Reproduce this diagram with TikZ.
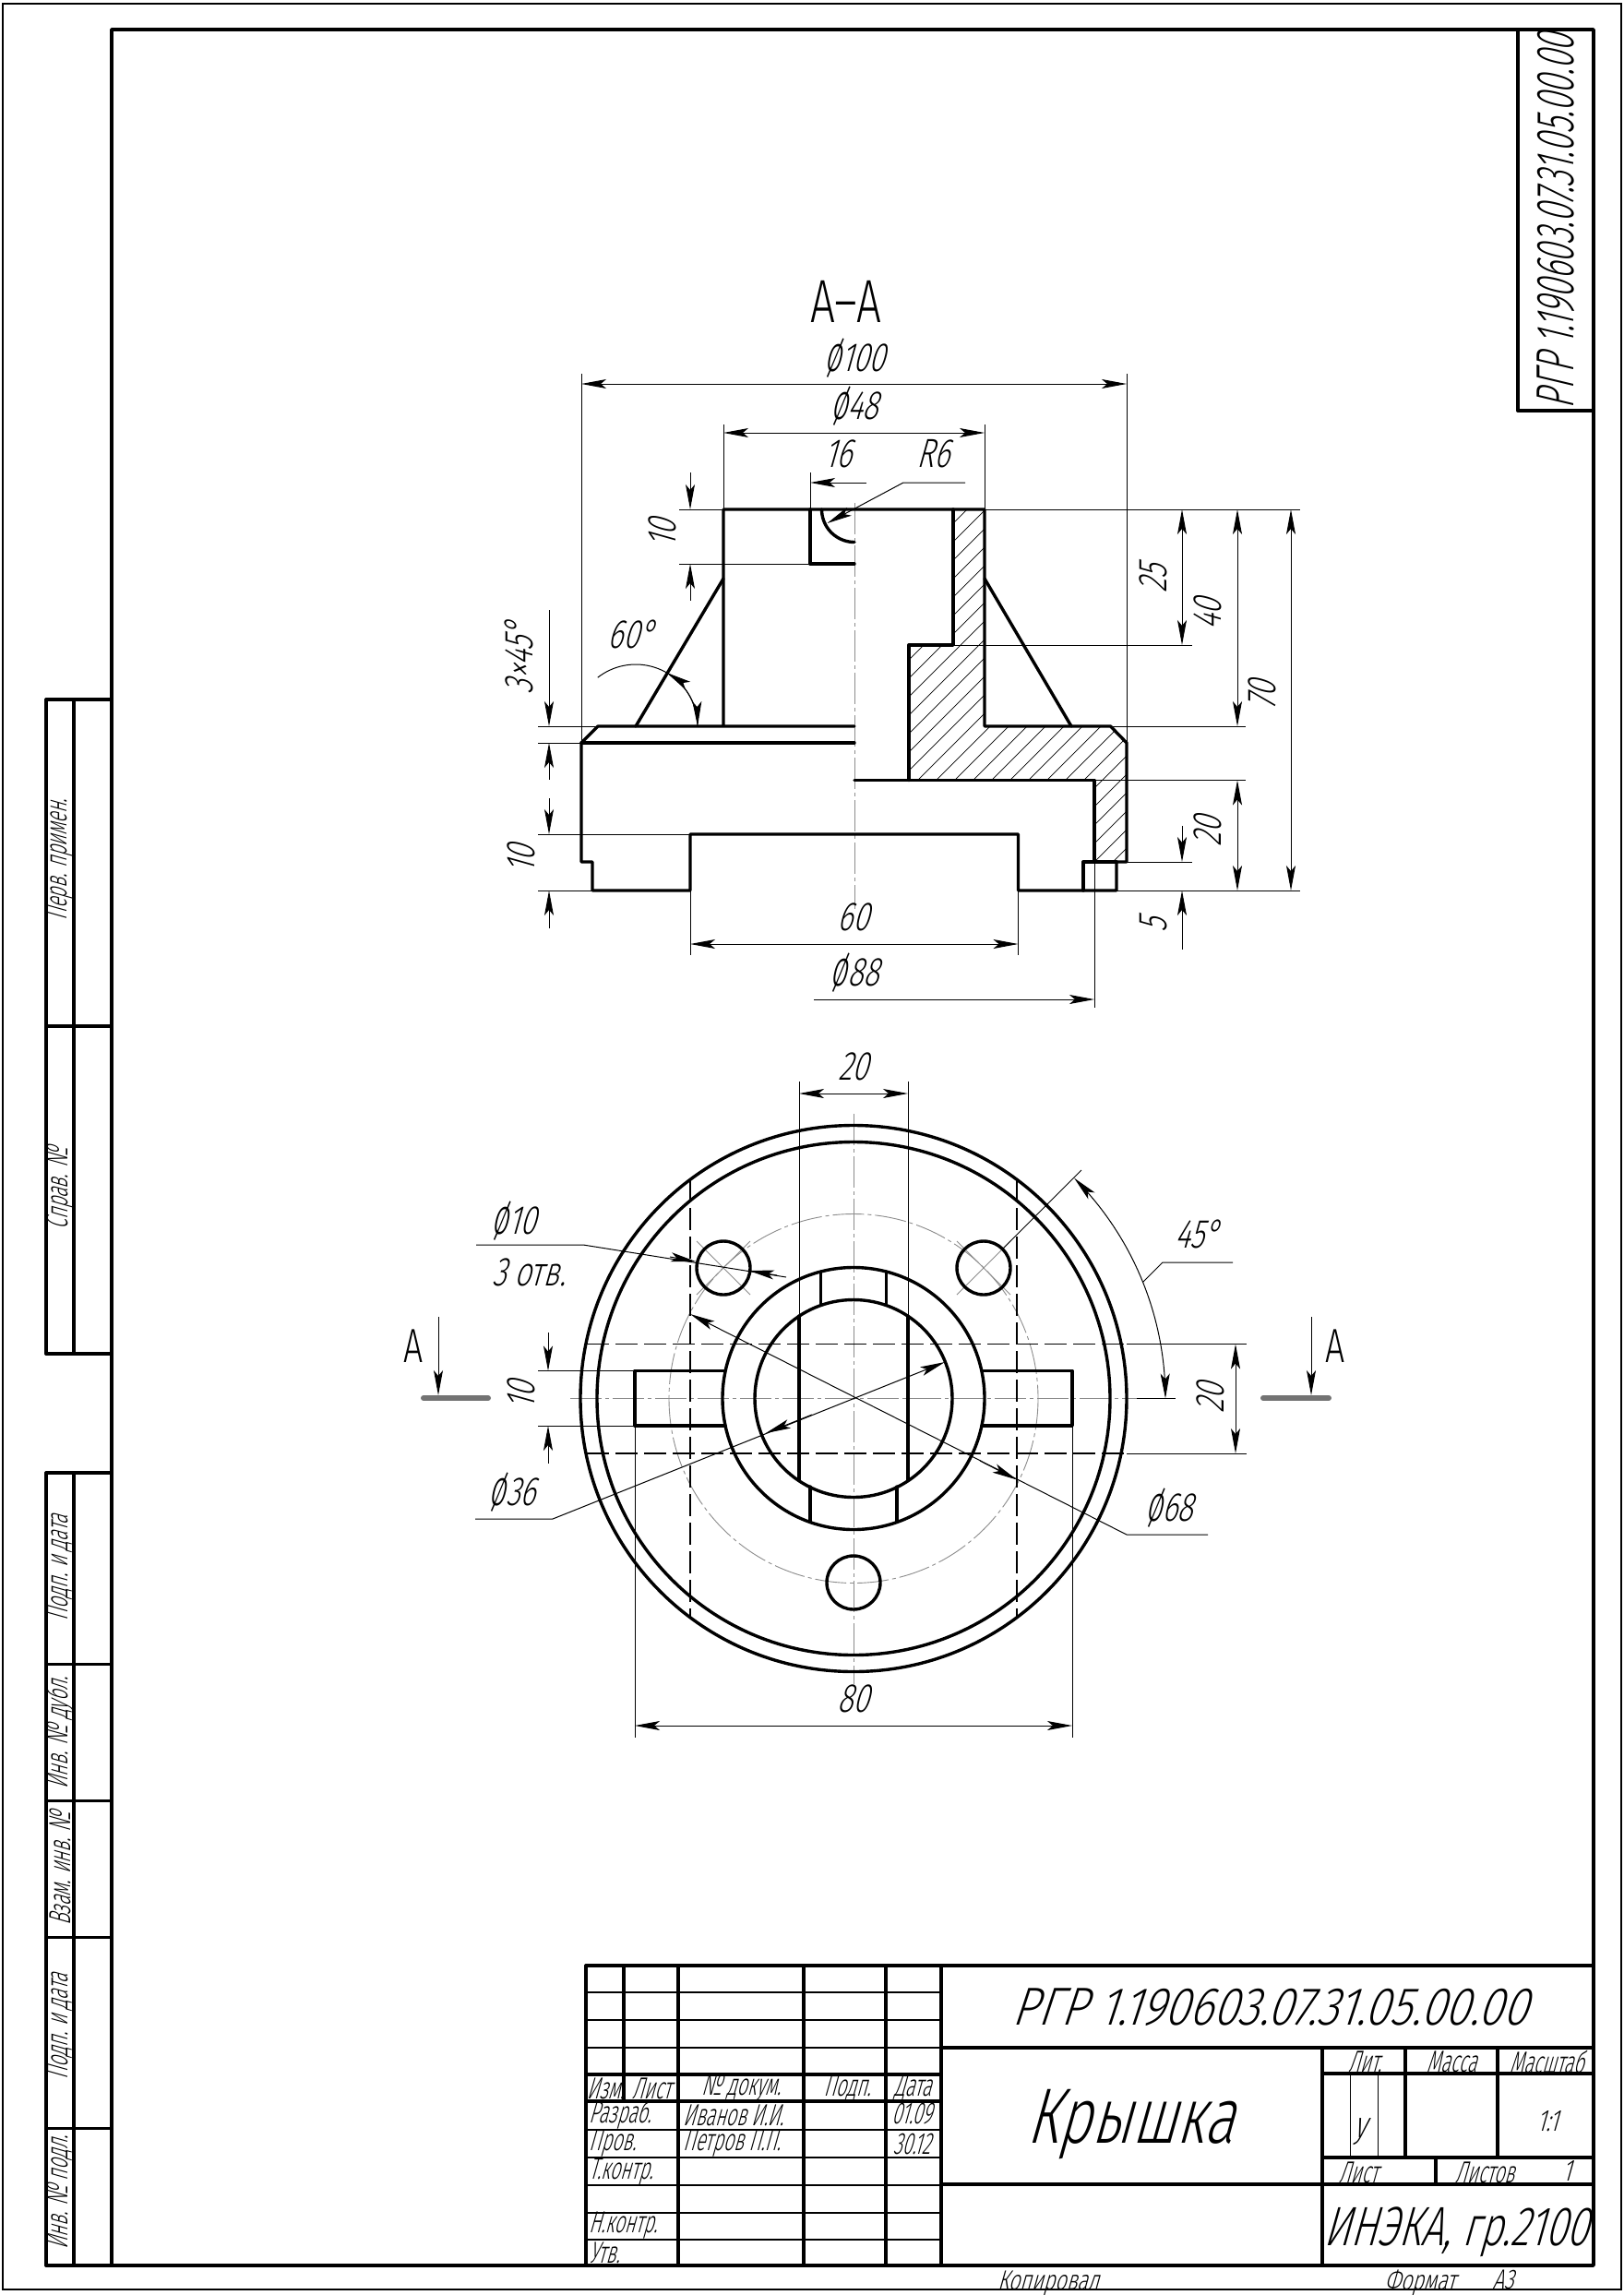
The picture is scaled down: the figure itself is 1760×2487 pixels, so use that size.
\documentclass[tikz,border=0pt]{standalone}
\usepackage{fontspec}
\usepackage{graphicx}
\usetikzlibrary{arrows.meta}
\setmainfont{Fira Sans Light}
\newfontfamily\gost[FakeStretch=0.72,FakeSlant=0.28]{Fira Sans Light}
\newfontfamily\gostn[FakeStretch=0.6,FakeSlant=0.28]{Fira Sans Light}
\newfontfamily\gostup[FakeStretch=0.72]{Fira Sans Light}
\newcommand{\dm}{\smash{\scalebox{1}[1.25]{ø}}}
\tikzset{
 >={Stealth[length=27pt,width=10pt,inset=6pt]},
 thick line/.style={line width=3.4pt,line join=round,line cap=round},
 tline/.style={line width=1pt,black},
 grid line/.style={line width=1.6pt},
 hatchline/.style={line width=0.7pt},
 cline/.style={line width=0.9pt,draw=black!45,dash pattern=on 34pt off 4pt on 4pt off 4pt},
 hidden/.style={line width=1.2pt,dash pattern=on 24pt off 7pt},
 fs/.style={font=\gost\fontsize{#1}{#1}\selectfont,inner sep=0pt,text height=0.7*#1 pt,text depth=0pt},
 fn/.style={font=\gostn\fontsize{#1}{#1}\selectfont,inner sep=0pt},
 fu/.style={font=\gostup\fontsize{#1}{#1}\selectfont,inner sep=0pt},
 vert/.style={rotate=90},
 lft/.style={anchor=west},
}
\begin{document}
\begin{tikzpicture}[x=1pt,y=-1pt]
\useasboundingbox (0,0) rectangle (1760,2487);
\fill[white] (0,0) rectangle (1760,2487);
% frames
\draw[line width=1.4pt] (3,4) rectangle (1757,2481);
\draw[thick line] (121,32) rectangle (1727,2455);
\draw[thick line] (1645,32) -- (1645,445) -- (1727,445);
\node[fs=58,vert] (stampcode) at (1685,240) {\scalebox{.85}[1]{РГР 1.190603.07.31.05.00.00}};
% left strip
\draw[thick line] (50,758) -- (121,758) (50,1112) -- (121,1112) (50,1467) -- (121,1467);
\draw[thick line] (50,758) -- (50,1467) (80,758) -- (80,1467);
\draw[thick line] (50,1596) -- (121,1596) (50,2455) -- (121,2455);
\draw[line width=3pt] (50,1803) -- (121,1803) (50,1951) -- (121,1951) (50,2099) -- (121,2099) (50,2306) -- (121,2306);
\draw[thick line] (50,1596) -- (50,2455) (80,1596) -- (80,2455);
\node[fn=33,vert] (s1) at (65,932) {Перв. примен.};
\node[fn=33,vert] (s2) at (65,1288) {Справ. №};
\node[fn=33,vert] (s3) at (65,1699) {Подп. и дата};
\node[fn=33,vert] (s4) at (65,1878) {Инв. № дубл.};
\node[fn=33,vert] (s5) at (65,2025) {Взам. инв. №};
\node[fn=33,vert] (s6) at (65,2196) {Подп. и дата};
\node[fn=33,vert] (s7) at (65,2376) {Инв. № подл.};
% title block
\draw[thick line] (635,2130) -- (1727,2130);
\foreach \yy in {2159,2189,2219,2308,2338,2368,2398,2427}
 \draw[grid line] (635,\yy) -- (1020,\yy);
\draw[thick line] (635,2248) -- (1020,2248) (635,2277) -- (1020,2277);
\draw[thick line] (635,2130) -- (635,2455);
\draw[thick line] (676,2130) -- (676,2277);
\foreach \xx in {735,871,960,1020} \draw[thick line] (\xx,2130) -- (\xx,2455);
\draw[thick line] (1020,2219) -- (1727,2219) (1020,2367) -- (1727,2367);
\draw[thick line] (1433,2219) -- (1433,2455);
\draw[thick line] (1433,2247) -- (1727,2247) (1433,2338) -- (1727,2338);
\draw[thick line] (1523,2219) -- (1523,2338) (1623,2219) -- (1623,2338) (1556,2338) -- (1556,2367);
\draw[tline] (1463,2247) -- (1463,2338) (1493,2247) -- (1493,2338);
\node[fs=58] (tcode) at (1376,2174) {\scalebox{1.17}[1]{РГР 1.190603.07.31.05.00.00}};
\node[fs=85] (tname) at (1225,2293) {Крышка};
\node[fs=60] (torg) at (1578,2412) {ИНЭКА, гр.2100};
\node[fn=33] (tlit) at (1479,2234) {Лит.};
\node[fn=33] (tmass) at (1573,2234) {Масса};
\node[fn=33] (tscale) at (1676,2234) {Масштаб};
\node[fn=33] (h1) at (656,2263) {Изм.};
\node[fn=33] (h2) at (706,2263) {Лист};
\node[fn=33] (h3) at (803,2263) {№ докум.};
\node[fn=33] (h4) at (918,2263) {Подп.};
\node[fn=33] (h5) at (989,2263) {Дата};
\node[fn=33,lft] (r1) at (638,2292) {Разраб.};
\node[fn=33,lft] (r1b) at (740,2292) {Иванов И.И.};
\node[fn=33] (r1c) at (988,2291) {01.09};
\node[fn=33,lft] (r2) at (638,2323) {Пров.};
\node[fn=33,lft] (r2b) at (740,2323) {Петров П.П.};
\node[fn=33] (r2c) at (988,2323) {30.12};
\node[fn=33,lft] (r3) at (638,2354) {Т.контр.};
\node[fn=33,lft] (r4) at (638,2412) {Н.контр.};
\node[fn=33,lft] (r5) at (638,2441) {Утв.};
\node[fs=40] (tu) at (1474,2302) {у};
\node[fs=33] (tsc) at (1677,2298) {1:1};
\node[fn=33] (tsh) at (1472,2354) {Лист};
\node[fn=33] (tshs) at (1609,2354) {Листов};
\node[fs=33] (tone) at (1698,2352) {1};
\node[fs=30] (tk) at (1136,2471) {Копировал};
\node[fs=30] (tf) at (1539,2471) {Формат};
\node[fs=30] (ta3) at (1629,2470) {А3};
% ----- section view -----
\node[fu=66] (secAA) at (917,327) {А–А};
\begin{scope}
 \clip (1033,552) -- (1067,552) -- (1067,787) -- (1203.5,787) -- (1221,805) -- (1221,934) -- (1186,934) -- (1186,845.5) -- (985,845.5) -- (985,699) -- (1033,699) -- cycle;
 \foreach \s in {1020,1040,...,1700} \draw[hatchline] (\s,540) -- (\s-480,1020);
\end{scope}
\draw[cline] (926,545) -- (926,985);
\draw[thick line] (926,787) -- (648,787) -- (630,805) -- (630,934) -- (642,934) -- (642,965) -- (748,965) -- (748,904) -- (1103.5,904) -- (1103.5,965) -- (1210,965) -- (1210,934) -- (1221,934) -- (1221,805) -- (1203.5,787) -- (1067,787) -- (1067,552) -- (784,552) -- (784,787);
\draw[thick line] (630,805) -- (926,805);
\draw[thick line] (689,787) -- (784,627) (1161,787) -- (1067,627);
\draw[thick line] (878,552) -- (878,611) -- (926,611);
\draw[thick line] plot[domain=180:270,samples=20] ({926+35.5*cos(\x)},{552-35.5*sin(\x)});
\draw[thick line] (926,845.5) -- (1186,845.5) -- (1186,934);
\draw[thick line] (985,845.5) -- (985,699) -- (1033,699) -- (1033,552);
\draw[thick line] (1174,965) -- (1174,934) -- (1210,934);
% section dimensions
\draw[tline] (630,405) -- (630,805) (1221,405) -- (1221,805);
\draw[tline,<->] (630,416) -- (1221,416);
\node[fs=44] (d100) at (926,387) {\dm100};
\draw[tline] (784,460) -- (784,552) (1067,460) -- (1067,552);
\draw[tline,<->] (784,469) -- (1067,469);
\node[fs=44] (d48) at (926,439) {\dm48};
\draw[tline] (878,512) -- (878,552);
\draw[tline,<-] (878,523) -- (939,523);
\node[fs=44] (d16) at (908,491) {16};
\draw[tline,<-] (896.5,567) -- (979,523) -- (1046,523);
\node[fs=44] (dr6) at (1011,491) {R6};
\draw[tline] (736,552) -- (784,552) (736,611) -- (878,611);
\draw[tline,->] (748,512) -- (748,552);
\draw[tline,<-] (748,611) -- (748,651);
\node[fs=44,vert] (d10a) at (717,578) {10};
\draw[tline] (583,787) -- (648,787) (583,805) -- (630,805);
\draw[tline,->] (595,661) -- (595,787);
\draw[tline,<-] (595,805) -- (595,845);
\node[fs=44,vert] (dch) at (562,713) {3×45°};
\draw[tline] (583,904) -- (748,904) (583,965) -- (642,965);
\draw[tline,->] (595,865) -- (595,904);
\draw[tline,<-] (595,965) -- (595,1006);
\node[fs=44,vert] (d10b) at (564,931) {10};
\draw[tline] plot[domain=0:128,samples=40] ({689+67*cos(\x)},{787-67*sin(\x)});
\draw[tline,->] plot[domain=28:60,samples=12] ({689+67*cos(\x)},{787-67*sin(\x)});
\draw[tline,->] plot[domain=28:0,samples=12] ({689+67*cos(\x)},{787-67*sin(\x)});
\node[fs=44] (d60a) at (684,687) {60°};
\draw[tline] (1067,552) -- (1409,552) (1033,699) -- (1292,699) (1203,787) -- (1350,787) (1210,965) -- (1409,965) (1186,845.5) -- (1350,845.5) (1210,934) -- (1292,934);
\draw[tline,<->] (1281,552) -- (1281,699);
\node[fs=44,vert] (d25) at (1249,627) {25};
\draw[tline,<->] (1341,552) -- (1341,787);
\node[fs=44,vert] (d40) at (1308,666) {40};
\draw[tline,<->] (1399,552) -- (1399,965);
\node[fs=44,vert] (d70) at (1367,753) {70};
\draw[tline,<->] (1341,845.5) -- (1341,965);
\node[fs=44,vert] (d20a) at (1308,901) {20};
\draw[tline,->] (1281,895) -- (1281,934);
\draw[tline,<-] (1281,965) -- (1281,1029);
\node[fs=44,vert] (d5) at (1249,1003) {5};
\draw[tline] (748,904) -- (748,1035) (1103.5,965) -- (1103.5,1035);
\draw[tline,<->] (748,1023) -- (1103.5,1023);
\node[fs=44] (d60) at (925,993) {60};
\draw[tline] (1186,934) -- (1186,1092);
\draw[tline,->] (882,1083) -- (1186,1083);
\node[fs=44] (d88) at (926,1053) {\dm88};
% ----- plan view -----
\coordinate (cc) at (925,1515.5);
\draw[cline] (cc) circle[radius=200];
\draw[cline] (925,1207) -- (925,1825);
\draw[cline] (618,1515.5) -- (1232,1515.5);
\draw[tline] (1232,1515.5) -- (1274,1515.5);
\foreach \hx in {784,1066}{
 \draw[line width=0.9pt,draw=black!45] (\hx-29,1374-29) -- (\hx+29,1374+29) (\hx-29,1374+29) -- (\hx+29,1374-29);
 \draw[thick line] (\hx,1374) circle[radius=29];
}
\draw[thick line] (925,1715) circle[radius=29];
\draw[thick line] (cc) circle[radius=296];
\draw[thick line] (cc) circle[radius=278];
\draw[thick line] (cc) circle[radius=142];
\draw[thick line] (cc) circle[radius=107];
\draw[thick line] (866,1426) -- (866,1604) (984,1426) -- (984,1604);
\draw[thick line] (889.5,1378) -- (889.5,1414) (960.5,1378) -- (960.5,1414);
\draw[thick line] (878,1611) -- (878,1649) (972,1611) -- (972,1649);
\draw[thick line] (786,1485.5) -- (688,1485.5) -- (688,1545) -- (786,1545);
\draw[thick line] (1064,1485.5) -- (1162,1485.5) -- (1162,1545) -- (1064,1545);
\draw[hidden] (748,1278) -- (748,1753) (1102,1278) -- (1102,1753);
\draw[hidden] (636,1456.5) -- (1221,1456.5) (636,1575) -- (1221,1575);
\draw[tline] (1221,1456.5) -- (1351,1456.5) (1221,1575) -- (1351,1575);
% plan dimensions
\draw[tline] (866,1172) -- (866,1426) (984,1172) -- (984,1426);
\draw[tline,<->] (866,1185) -- (984,1185);
\node[fs=44] (p20) at (925,1155) {20};
\draw[tline] (688,1545) -- (688,1883) (1162,1545) -- (1162,1883);
\draw[tline,<->] (688,1870) -- (1162,1870);
\node[fs=44] (p80) at (925,1840) {80};
\draw[tline] (583,1485.5) -- (688,1485.5) (583,1545) -- (688,1545);
\draw[tline,->] (594,1444) -- (594,1485.5);
\draw[tline,<-] (594,1545) -- (594,1586);
\node[fs=44,vert] (p10) at (564,1512) {10};
\draw[tline,<->] (1339,1456.5) -- (1339,1575);
\node[fs=44,vert] (p20b) at (1311,1515) {20};
\draw[tline] (516,1349) -- (632,1349) -- (852,1384);
\draw[tline,->] (726,1362) -- (754,1367);
\draw[tline,->] (842,1382) -- (812,1377);
\node[fs=44] (pd10) at (557,1322) {\dm10};
\node[fs=44] (p3) at (573,1378) {3 отв.};
\draw[tline,<-] (748,1424) -- (1221,1663) -- (1309,1663);
\draw[tline,->] (1062,1583) -- (1102,1603.5);
\node[fs=44] (pd68) at (1267,1633) {\dm68};
\draw[tline,->] (515,1646) -- (599,1646) -- (1024,1476);
\draw[tline,->] (880,1533) -- (830,1553);
\node[fs=44] (pd36) at (555,1616) {\dm36};
\draw[tline] (1087,1353) -- (1172,1268);
\draw[tline,<->] plot[domain=0:45,samples=40] ({925+338*cos(\x)},{1515.5-338*sin(\x)});
\draw[tline] (1239,1389) -- (1260,1368) -- (1336,1368);
\node[fs=44] (p45) at (1297,1337) {45°};
% section marks
\draw[line width=6pt,line cap=round,draw=black!55] (459,1515) -- (529,1515);
\draw[line width=6pt,line cap=round,draw=black!55] (1369,1515) -- (1440,1515);
\draw[tline,->] (475,1427) -- (475,1512);
\draw[tline,->] (1421,1427) -- (1421,1512);
\node[fu=52] (ma) at (448,1459) {А};
\node[fu=52] (mb) at (1447,1459) {А};
\end{tikzpicture}
\end{document}
